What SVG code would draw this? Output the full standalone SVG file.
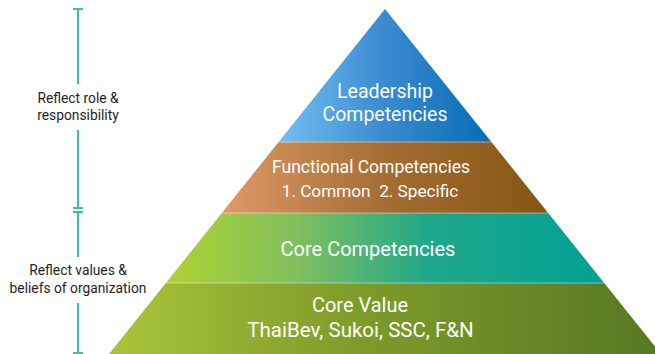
<svg xmlns="http://www.w3.org/2000/svg" width="655" height="354" viewBox="0 0 655 354">
<style>
.lbl{font-family:Roboto,"Liberation Sans",sans-serif;fill:#fff;text-anchor:middle;white-space:pre}
.side{font-family:Roboto,"Liberation Sans",sans-serif;fill:#1e1e1e;font-size:13.8px;text-anchor:middle}
.br{stroke:#3fbcb0;stroke-width:2;fill:none}
.sep{stroke:#ffffff;stroke-opacity:0.45;stroke-width:1}
</style>
<defs>
<linearGradient id="gL" gradientUnits="userSpaceOnUse" x1="278" y1="0" x2="492" y2="0">
<stop offset="0" stop-color="#74bff0"/><stop offset="0.5" stop-color="#3a8ad0"/><stop offset="1" stop-color="#066cb6"/>
</linearGradient>
<linearGradient id="gF" gradientUnits="userSpaceOnUse" x1="222" y1="0" x2="548" y2="0">
<stop offset="0" stop-color="#df9a68"/><stop offset="0.5" stop-color="#a46d33"/><stop offset="1" stop-color="#855512"/>
</linearGradient>
<linearGradient id="gC" gradientUnits="userSpaceOnUse" x1="166" y1="0" x2="604" y2="0">
<stop offset="0" stop-color="#b0d232"/><stop offset="0.3" stop-color="#7fbf5e"/><stop offset="0.6" stop-color="#1fa88a"/><stop offset="1" stop-color="#00a194"/>
</linearGradient>
<linearGradient id="gV" gradientUnits="userSpaceOnUse" x1="109" y1="0" x2="655" y2="0">
<stop offset="0" stop-color="#a8c53a"/><stop offset="0.45" stop-color="#7e9c2a"/><stop offset="1" stop-color="#587824"/>
</linearGradient>
</defs>
<g id="leadership">
<polygon points="385,9 491.4,142 278.6,142" fill="url(#gL)"/>
<text class="lbl" x="385" y="98" font-size="19.5">Leadership</text>
<text class="lbl" x="385" y="121" font-size="19.5">Competencies</text>
</g>
<g id="functional">
<polygon points="278.6,142 491.4,142 548.2,213 221.8,213" fill="url(#gF)"/>
<text class="lbl" x="371" y="173" font-size="17.5">Functional Competencies</text>
<text class="lbl" x="370" y="197" font-size="17.2">1. Common  2. Specific</text>
</g>
<g id="core-competencies">
<polygon points="221.8,213 548.2,213 604.2,283 165.8,283" fill="url(#gC)"/>
<text class="lbl" x="368" y="256" font-size="20">Core Competencies</text>
</g>
<g id="core-value">
<polygon points="165.8,283 604.2,283 661,354 109,354" fill="url(#gV)"/>
<text class="lbl" x="360" y="312" font-size="20">Core Value</text>
<text class="lbl" x="360.5" y="337" font-size="20.5">ThaiBev, Sukoi, SSC, F&amp;N</text>
</g>
<g id="connectors">
<line class="sep" x1="278.6" y1="142" x2="491.4" y2="142"/>
<line class="sep" x1="221.8" y1="213" x2="548.2" y2="213"/>
<line class="sep" x1="165.8" y1="283" x2="604.2" y2="283"/>
<path class="br" d="M73,9 H83 M78,9 V84 M78,130 V208 M73,208 H83 M73,212 H83 M78,212 V257 M78,303 V354 M73,353 H83"/>
</g>
<g id="label-role">
<text class="side" x="78" y="103">Reflect role &amp;</text>
<text class="side" x="78" y="120">responsibility</text>
</g>
<g id="label-values">
<text class="side" x="78" y="275">Reflect values &amp;</text>
<text class="side" x="78" y="293">beliefs of organization</text>
</g>
</svg>
